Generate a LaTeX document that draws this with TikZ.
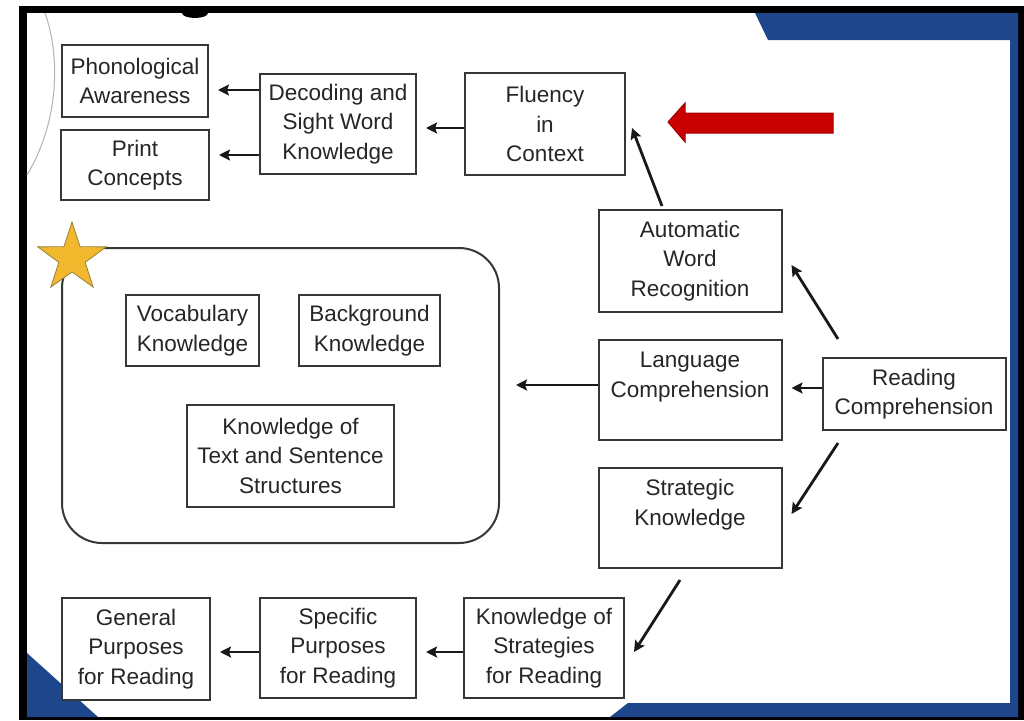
\documentclass[tikz,border=0pt]{standalone}
\usepackage{fontspec}
\setmainfont{Liberation Sans}
\usetikzlibrary{arrows.meta,shapes.geometric,calc}
\definecolor{frameblue}{RGB}{30,70,140}
\definecolor{boxline}{RGB}{55,55,55}
\definecolor{inktext}{RGB}{38,38,38}
\definecolor{arrowred}{RGB}{200,0,0}
\definecolor{stargold}{RGB}{243,185,46}
\definecolor{staredge}{RGB}{150,130,60}

\begin{document}
\begin{tikzpicture}[x=1pt,y=-1pt,
  boxtext/.style={inner sep=0pt, align=center, text=inktext,
    font=\fontsize{22.5}{29.5}\selectfont},
  box/.style={boxtext, draw=boxline, line width=2pt, fill=white},
  arr/.style={draw=black!90, line width=2.8pt,
    -{Stealth[length=11pt,width=11pt,inset=2pt]}, shorten >=9pt}
]
\useasboundingbox (0,0) rectangle (1024,720);

% slide frame
\fill[white] (0,0) rectangle (1024,720);
\fill[black] (19,6) rectangle (1024,720);
\fill[white] (27,13) rectangle (1018,717);
\fill[frameblue] (755,13) -- (1018,13) -- (1018,717) -- (610,717) -- (628,703)
  -- (1010,703) -- (1010,40) -- (768,40) -- cycle;
\fill[frameblue] (27,653) -- (98,717) -- (27,717) -- cycle;
\fill[black] (195,13) ellipse [x radius=13pt, y radius=5pt];
\draw[black!30, line width=1pt] (45,13) .. controls (60,55) and (60,120) .. (27,175);

% red pointer
\filldraw[fill=arrowred, draw=arrowred!80!black, line width=1pt]
  (668,122) -- (685,103) -- (685,113) -- (833,113) -- (833,133)
  -- (685,133) -- (685,142) -- cycle;

% knowledge group
\node[draw=boxline, line width=2pt, rounded corners=40pt, inner sep=0pt,
  minimum width=437pt, minimum height=295pt] (know) at (280.5,395.5) {};
\node[star, star points=5, star point ratio=2.6, minimum size=72pt, inner sep=0pt,
  fill=stargold, draw=staredge, line width=0.8pt] (star) at (72,258) {};
\node[box, minimum width=133pt, minimum height=71pt] (vocab) at (192.5,330.5)
  {Vocabulary\\Knowledge};
\node[box, minimum width=141pt, minimum height=71pt] (backg) at (369.5,330.5)
  {Background\\Knowledge};
\node[box, minimum width=207pt, minimum height=102pt] (ktext) at (290.5,455.5)
  {Knowledge of\\Text and Sentence\\Structures};

% top row
\node[box, minimum width=146pt, minimum height=72pt] (phon) at (135,81)
  {Phonological\\Awareness};
\node[box, minimum width=148pt, minimum height=70pt] (print) at (135,165)
  {Print\\Concepts};
\node[box, minimum width=156pt, minimum height=100pt] (decod) at (338,124)
  {Decoding and\\Sight Word\\Knowledge};
\node[box, minimum width=160pt, minimum height=102pt] (flu) at (545,124)
  {Fluency\\in\\Context};

% middle column
\node[box, minimum width=183pt, minimum height=102pt] (auto) at (690,261)
  {Automatic\\Word\\Recognition};
\node[box, minimum width=183pt, minimum height=100pt] (lang) at (690,390) {};
\node[boxtext, anchor=north] at ($(lang.north)+(0,13)$) {Language\\Comprehension};
\node[box, minimum width=183pt, minimum height=72pt] (read) at (914,394)
  {Reading\\Comprehension};
\node[box, minimum width=183pt, minimum height=100pt] (strat) at (690,518) {};
\node[boxtext, anchor=north] at ($(strat.north)+(0,12)$) {Strategic\\Knowledge};

% bottom row
\node[box, minimum width=160pt, minimum height=100pt] (kstrat) at (544,648)
  {Knowledge of\\Strategies\\for Reading};
\node[box, minimum width=156pt, minimum height=100pt] (spec) at (338,648)
  {Specific\\Purposes\\for Reading};
\node[box, minimum width=148pt, minimum height=102pt] (gen) at (136,649)
  {General\\Purposes\\for Reading};

% connectors
\draw[arr] ($(decod.west)+(0,-34)$) -- ($(decod.west -| phon.east)+(0,-34)$);
\draw[arr] ($(decod.west)+(0,31)$) -- ($(decod.west -| print.east)+(0,31)$);
\draw[arr] ($(flu.west)+(0,4)$) -- ($(flu.west -| decod.east)+(0,4)$);
\draw[arr, shorten >=0pt] ($(auto.north)+(-28,-3)$) -- ($(flu.east)+(6,4)$);
\draw[arr, shorten >=0pt] ($(read.north)+(-76,-18)$) -- ($(auto.east)+(9,4)$);
\draw[arr] ($(read.west)+(0,-6)$) -- ($(read.west -| lang.east)+(0,-6)$);
\draw[arr, shorten >=16pt] ($(lang.west)+(0,-5)$) -- ($(lang.west -| know.east)+(0,-5)$);
\draw[arr, shorten >=0pt] ($(read.south)+(-76,12)$) -- ($(strat.east)+(9,-4)$);
\draw[arr, shorten >=0pt] ($(strat.south)+(-10,11)$) -- ($(kstrat.east)+(9,4)$);
\draw[arr] ($(kstrat.west)+(0,4)$) -- ($(kstrat.west -| spec.east)+(0,4)$);
\draw[arr] ($(spec.west)+(0,4)$) -- ($(spec.west -| gen.east)+(0,4)$);
\end{tikzpicture}
\end{document}
